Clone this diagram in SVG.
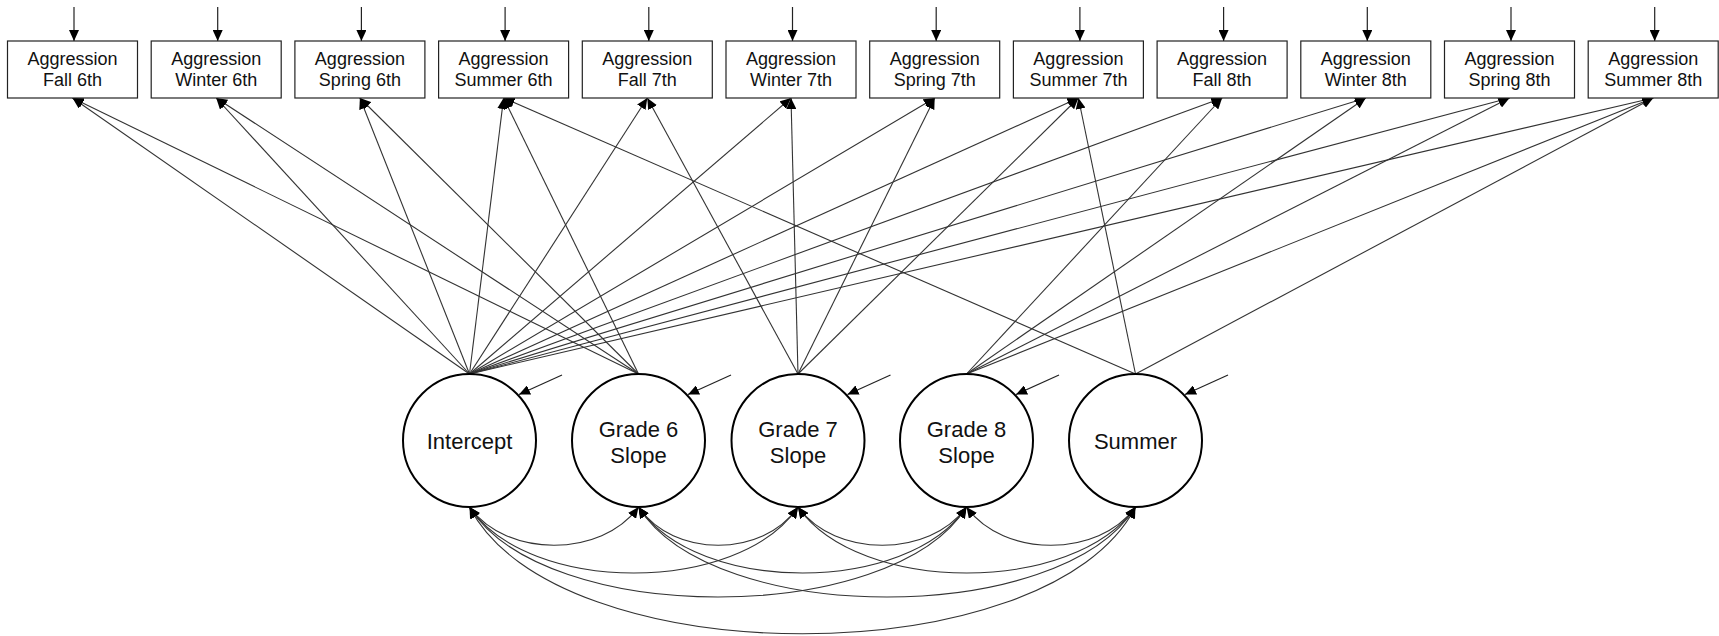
<svg xmlns="http://www.w3.org/2000/svg" width="1719" height="636" viewBox="0 0 1719 636">
<style>
.box{fill:#fff;stroke:#222;stroke-width:1.2}
.lat{fill:#fff;stroke:#000;stroke-width:2}
.t{font-family:"Liberation Sans",Arial,sans-serif;font-size:18px;fill:#111;text-anchor:middle}
.tl{font-family:"Liberation Sans",Arial,sans-serif;font-size:22px;fill:#111;text-anchor:middle}
.ln{fill:none;stroke:#333;stroke-width:1.1}
.ar{fill:none;stroke:#222;stroke-width:1.2;marker-end:url(#ah)}
.cv{fill:none;stroke:#333;stroke-width:1.1;marker-start:url(#ah);marker-end:url(#ah)}
</style>
<defs>
<marker id="ah" markerUnits="userSpaceOnUse" markerWidth="12" markerHeight="10" refX="11" refY="5" orient="auto-start-reverse" viewBox="0 0 12 10">
<path d="M0,0 L11,5 L0,10 z" fill="#000"/>
</marker>
</defs>
<rect width="1719" height="636" fill="#fff"/>

<g id="connectors">
<line class="ar" x1="74" y1="7" x2="74" y2="41"/>
<line class="ar" x1="217.7" y1="7" x2="217.7" y2="41"/>
<line class="ar" x1="361.4" y1="7" x2="361.4" y2="41"/>
<line class="ar" x1="505.1" y1="7" x2="505.1" y2="41"/>
<line class="ar" x1="648.8" y1="7" x2="648.8" y2="41"/>
<line class="ar" x1="792.5" y1="7" x2="792.5" y2="41"/>
<line class="ar" x1="936.2" y1="7" x2="936.2" y2="41"/>
<line class="ar" x1="1079.9" y1="7" x2="1079.9" y2="41"/>
<line class="ar" x1="1223.6" y1="7" x2="1223.6" y2="41"/>
<line class="ar" x1="1367.3" y1="7" x2="1367.3" y2="41"/>
<line class="ar" x1="1511" y1="7" x2="1511" y2="41"/>
<line class="ar" x1="1654.7" y1="7" x2="1654.7" y2="41"/>
<line class="ar" x1="562" y1="375" x2="519" y2="394.5"/>
<line class="ar" x1="731" y1="375" x2="688" y2="394.5"/>
<line class="ar" x1="890.5" y1="375" x2="847.5" y2="394.5"/>
<line class="ar" x1="1059" y1="375" x2="1016" y2="394.5"/>
<line class="ar" x1="1228" y1="375" x2="1185" y2="394.5"/>
<g marker-end="url(#ah)" class="ln">
<line x1="469.5" y1="374" x2="72.5" y2="98"/>
<line x1="469.5" y1="374" x2="216.2" y2="98"/>
<line x1="469.5" y1="374" x2="359.9" y2="98"/>
<line x1="469.5" y1="374" x2="503.6" y2="98"/>
<line x1="469.5" y1="374" x2="647.3" y2="98"/>
<line x1="469.5" y1="374" x2="791" y2="98"/>
<line x1="469.5" y1="374" x2="934.7" y2="98"/>
<line x1="469.5" y1="374" x2="1078.4" y2="98"/>
<line x1="469.5" y1="374" x2="1222.1" y2="98"/>
<line x1="469.5" y1="374" x2="1365.8" y2="98"/>
<line x1="469.5" y1="374" x2="1509.5" y2="98"/>
<line x1="469.5" y1="374" x2="1653.2" y2="98"/>
<line x1="638.5" y1="374" x2="72.5" y2="98"/>
<line x1="638.5" y1="374" x2="216.2" y2="98"/>
<line x1="638.5" y1="374" x2="359.9" y2="98"/>
<line x1="638.5" y1="374" x2="503.6" y2="98"/>
<line x1="798" y1="374" x2="647.3" y2="98"/>
<line x1="798" y1="374" x2="791" y2="98"/>
<line x1="798" y1="374" x2="934.7" y2="98"/>
<line x1="798" y1="374" x2="1078.4" y2="98"/>
<line x1="966.5" y1="374" x2="1222.1" y2="98"/>
<line x1="966.5" y1="374" x2="1365.8" y2="98"/>
<line x1="966.5" y1="374" x2="1509.5" y2="98"/>
<line x1="966.5" y1="374" x2="1653.2" y2="98"/>
<line x1="1135.5" y1="374" x2="503.6" y2="98"/>
<line x1="1135.5" y1="374" x2="1078.4" y2="98"/>
<line x1="1135.5" y1="374" x2="1653.2" y2="98"/>
</g>
<path class="cv" d="M469.5,507 C506.5,558 601.5,558 638.5,507"/>
<path class="cv" d="M638.5,507 C673.5,558 763,558 798,507"/>
<path class="cv" d="M798,507 C835,558 929.5,558 966.5,507"/>
<path class="cv" d="M966.5,507 C1003.5,558 1098.5,558 1135.5,507"/>
<path class="cv" d="M469.5,507 C528.5,595 739,595 798,507"/>
<path class="cv" d="M638.5,507 C697.5,595 907.5,595 966.5,507"/>
<path class="cv" d="M798,507 C859,595 1074.5,595 1135.5,507"/>
<path class="cv" d="M469.5,507 C544,627 892,627 966.5,507"/>
<path class="cv" d="M638.5,507 C713,627 1061,627 1135.5,507"/>
<path class="cv" d="M469.5,507 C556,676 1049,676 1135.5,507"/>
</g>

<g id="fall6"><rect class="box" x="7.5" y="41" width="130" height="57"/><text class="t" x="72.5" y="65">Aggression</text><text class="t" x="72.5" y="86">Fall 6th</text></g>
<g id="winter6"><rect class="box" x="151.2" y="41" width="130" height="57"/><text class="t" x="216.2" y="65">Aggression</text><text class="t" x="216.2" y="86">Winter 6th</text></g>
<g id="spring6"><rect class="box" x="294.9" y="41" width="130" height="57"/><text class="t" x="359.9" y="65">Aggression</text><text class="t" x="359.9" y="86">Spring 6th</text></g>
<g id="summer6"><rect class="box" x="438.6" y="41" width="130" height="57"/><text class="t" x="503.6" y="65">Aggression</text><text class="t" x="503.6" y="86">Summer 6th</text></g>
<g id="fall7"><rect class="box" x="582.3" y="41" width="130" height="57"/><text class="t" x="647.3" y="65">Aggression</text><text class="t" x="647.3" y="86">Fall 7th</text></g>
<g id="winter7"><rect class="box" x="726" y="41" width="130" height="57"/><text class="t" x="791" y="65">Aggression</text><text class="t" x="791" y="86">Winter 7th</text></g>
<g id="spring7"><rect class="box" x="869.7" y="41" width="130" height="57"/><text class="t" x="934.7" y="65">Aggression</text><text class="t" x="934.7" y="86">Spring 7th</text></g>
<g id="summer7"><rect class="box" x="1013.4" y="41" width="130" height="57"/><text class="t" x="1078.4" y="65">Aggression</text><text class="t" x="1078.4" y="86">Summer 7th</text></g>
<g id="fall8"><rect class="box" x="1157.1" y="41" width="130" height="57"/><text class="t" x="1222.1" y="65">Aggression</text><text class="t" x="1222.1" y="86">Fall 8th</text></g>
<g id="winter8"><rect class="box" x="1300.8" y="41" width="130" height="57"/><text class="t" x="1365.8" y="65">Aggression</text><text class="t" x="1365.8" y="86">Winter 8th</text></g>
<g id="spring8"><rect class="box" x="1444.5" y="41" width="130" height="57"/><text class="t" x="1509.5" y="65">Aggression</text><text class="t" x="1509.5" y="86">Spring 8th</text></g>
<g id="summer8"><rect class="box" x="1588.2" y="41" width="130" height="57"/><text class="t" x="1653.2" y="65">Aggression</text><text class="t" x="1653.2" y="86">Summer 8th</text></g>

<g id="intercept"><circle class="lat" cx="469.5" cy="440.5" r="66.5"/><text class="tl" x="469.5" y="449">Intercept</text></g>
<g id="grade6"><circle class="lat" cx="638.5" cy="440.5" r="66.5"/><text class="tl" x="638.5" y="437">Grade 6</text><text class="tl" x="638.5" y="463">Slope</text></g>
<g id="grade7"><circle class="lat" cx="798" cy="440.5" r="66.5"/><text class="tl" x="798" y="437">Grade 7</text><text class="tl" x="798" y="463">Slope</text></g>
<g id="grade8"><circle class="lat" cx="966.5" cy="440.5" r="66.5"/><text class="tl" x="966.5" y="437">Grade 8</text><text class="tl" x="966.5" y="463">Slope</text></g>
<g id="summer"><circle class="lat" cx="1135.5" cy="440.5" r="66.5"/><text class="tl" x="1135.5" y="449">Summer</text></g>
</svg>
